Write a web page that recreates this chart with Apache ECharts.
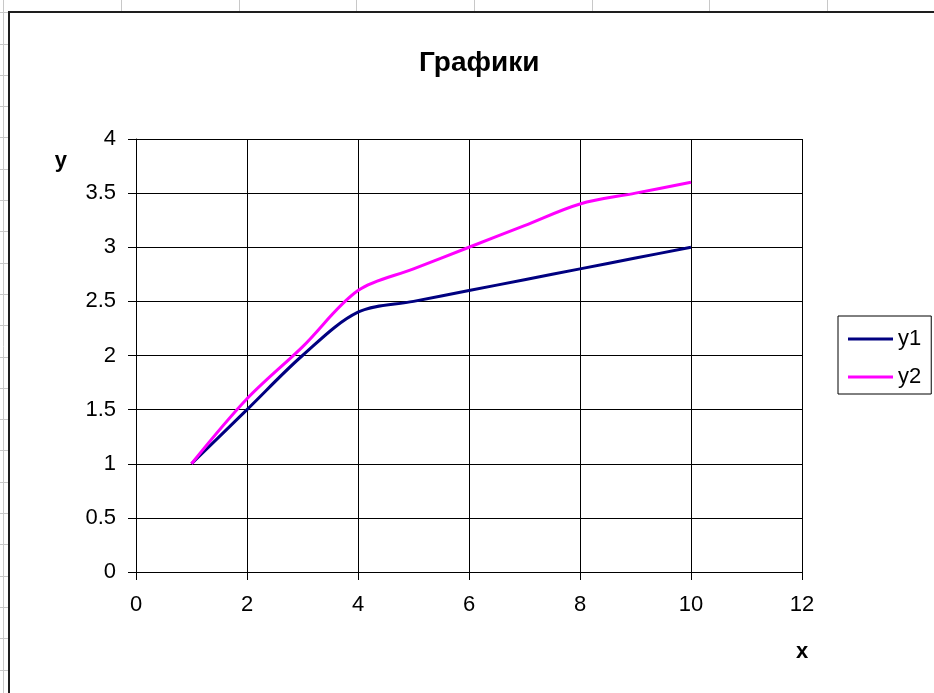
<!DOCTYPE html>
<html><head><meta charset="utf-8">
<script src="https://cdn.jsdelivr.net/npm/echarts@6/dist/echarts.min.js"></script>
<style>html,body{margin:0;padding:0;background:#fff;overflow:hidden}#c{width:934px;height:693px}</style>
</head><body><div id="c"></div>
<script>
// ---- data ----
const xValues = [1, 2, 3, 4, 5, 6, 7, 8, 9, 10];
const y1Values = [1, 1.5, 2, 2.4, 2.5, 2.6, 2.7, 2.8, 2.9, 3.0];
const y2Values = [1, 1.6, 2.08, 2.6, 2.8, 3.0, 3.2, 3.4, 3.5, 3.6];
const seriesNames = ['y1', 'y2'];
const titleText = 'Графики';
const xAxisName = 'x';
const yAxisName = 'y';

// ---- styling ----
const FONT = 'Liberation Sans, Arial, sans-serif';
const colors = ['#000080', '#ff00ff'];

// spreadsheet decoration behind the chart
const deco = [];
const cellGray = '#c8c8c8';
for (let k = 0; k < 8; k++) {
  const x = Math.round(3.2 + 117.7 * k) + 0.5;
  deco.push({ type: 'line', silent: true, z: -10,
    shape: { x1: x, y1: 0, x2: x, y2: k === 0 ? 693 : 11 },
    style: { stroke: cellGray, lineWidth: 1 } });
}
for (let k = 0; k < 23; k++) {
  const y = Math.round(12.2 + 31.3 * k) + 0.5;
  deco.push({ type: 'line', silent: true, z: -10,
    shape: { x1: 0, y1: y, x2: 8, y2: y },
    style: { stroke: cellGray, lineWidth: 1 } });
}
deco.push({ type: 'rect', silent: true, z: -5,
  shape: { x: 9, y: 12, width: 1000, height: 1000 },
  style: { fill: '#fff', stroke: '#1e1e1e', lineWidth: 2 } });

const chart = echarts.init(document.getElementById('c'));
chart.setOption({
  animation: false,
  backgroundColor: 'transparent',
  textStyle: { fontFamily: FONT, color: '#000' },
  graphic: deco,
  title: {
    text: titleText,
    left: 414, top: 44,
    textStyle: { fontFamily: FONT, fontSize: 28, fontWeight: 'bold', color: '#000' }
  },
  grid: { left: 136, top: 139, right: 132, bottom: 121, containLabel: false },
  legend: {
    orient: 'vertical',
    left: 838, top: 316,
    padding: [12, 10, 6, 10],
    itemGap: 16,
    itemWidth: 45, itemHeight: 3,
    icon: 'rect',
    borderColor: '#000', borderWidth: 1,
    textStyle: { fontFamily: FONT, fontSize: 22, color: '#000', padding: [0, 0, 0, 0] },
    data: seriesNames
  },
  xAxis: {
    type: 'value', min: 0, max: 12, interval: 2,
    name: xAxisName, nameLocation: 'end', nameGap: 0,
    nameTextStyle: { fontFamily: FONT, fontSize: 22, fontWeight: 'bold', color: '#000',
      align: 'center', verticalAlign: 'top', padding: [69, 0, 0, 0] },
    axisLine: { show: true, onZero: false, lineStyle: { color: '#000', width: 1 } },
    axisTick: { show: true, inside: false, length: 8, lineStyle: { color: '#000' } },
    axisLabel: { fontFamily: FONT, fontSize: 22, color: '#000', margin: 22 },
    splitLine: { show: true, lineStyle: { color: '#000', width: 1 } }
  },
  yAxis: {
    type: 'value', min: 0, max: 4, interval: 0.5,
    name: yAxisName, nameLocation: 'end', nameGap: 0,
    nameTextStyle: { fontFamily: FONT, fontSize: 22, fontWeight: 'bold', color: '#000',
      align: 'right', verticalAlign: 'top', padding: [11, 69, 0, 0] },
    axisLine: { show: true, onZero: false, lineStyle: { color: '#000', width: 1 } },
    axisTick: { show: true, inside: false, length: 8, lineStyle: { color: '#000' } },
    axisLabel: { fontFamily: FONT, fontSize: 22, color: '#000', margin: 20 },
    splitLine: { show: true, lineStyle: { color: '#000', width: 1 } }
  },
  series: [
    { name: seriesNames[0], type: 'line', smooth: 0.33, showSymbol: false,
      color: colors[0], lineStyle: { color: colors[0], width: 3 },
      data: xValues.map((x, i) => [x, y1Values[i]]) },
    { name: seriesNames[1], type: 'line', smooth: 0.33, showSymbol: false,
      color: colors[1], lineStyle: { color: colors[1], width: 3 },
      data: xValues.map((x, i) => [x, y2Values[i]]) }
  ]
});
</script></body></html>
